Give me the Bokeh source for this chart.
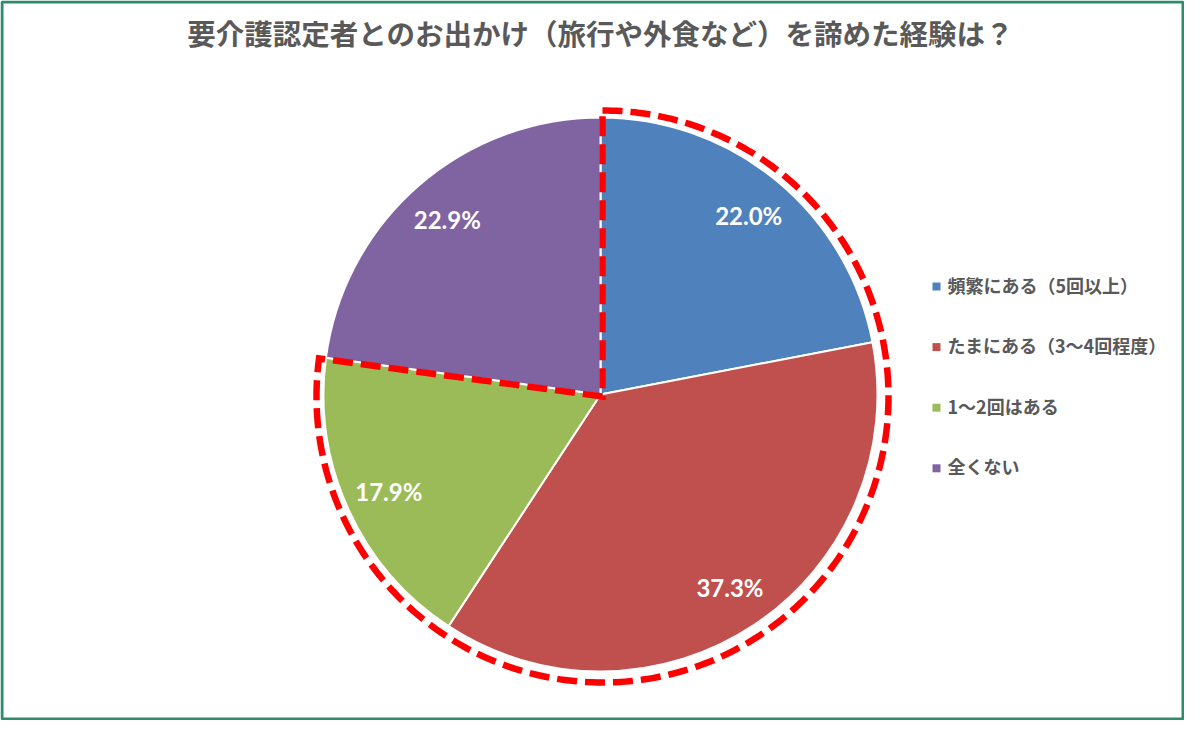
import numpy as np
from bokeh.plotting import figure
from bokeh.models import Range1d, ColumnDataSource
from bokeh.embed import file_html
from bokeh.resources import INLINE
from bokeh.core.properties import value

# ---- data ----
title_text = "要介護認定者とのお出かけ（旅行や外食など）を諦めた経験は？"
categories = ["頻繁にある（5回以上）", "たまにある（3～4回程度）", "1～2回はある", "全くない"]
shares = [22.0, 37.3, 17.9, 22.9]
labels = ["22.0%", "37.3%", "17.9%", "22.9%"]
colors = ["#4F81BD", "#C0504D", "#9BBB59", "#8064A2"]
n_highlight = 3  # first three slices are outlined in red

# ---- figure in pixel coordinates (y up) ----
W, H = 1184, 720
p = figure(width=W, height=H, x_range=Range1d(0, W), y_range=Range1d(0, H),
           output_backend="svg", toolbar_location=None, min_border=0)
p.axis.visible = False
p.grid.visible = False
p.outline_line_color = None
p.background_fill_color = "white"
p.border_fill_color = "white"


def Y(y_ref):
    return H - y_ref


# frame border
p.rect(x=W / 2, y=H / 2, width=W - 3, height=H - 3, fill_color=None,
       line_color="#2E8B6E", line_width=3)

# ---- pie ----
cx, cy, r = 600, Y(394), 277
vals = np.array(shares)
total = vals.sum()
cum = np.concatenate([[0], np.cumsum(vals)]) / total
start = np.pi / 2 - 2 * np.pi * cum[:-1]
end = np.pi / 2 - 2 * np.pi * cum[1:]
src = ColumnDataSource(dict(start=start, end=end, color=colors))
p.wedge(x=cx, y=cy, radius=r, start_angle="start", end_angle="end", direction="clock",
        fill_color="color", line_color="white", line_width=2, source=src)

mid = (start + end) / 2
lr = 0.84 * r
p.text(x=cx + lr * np.cos(mid), y=cy + lr * np.sin(mid), text=labels,
       text_align="center", text_baseline="middle", text_color="white",
       text_font=value("Lato"), text_font_style="bold", text_font_size="24px")

# ---- red dashed outline around highlighted slices ----
ocx, ocy, R = 602, Y(396), 286
a0 = np.pi / 2
a1 = np.pi / 2 - 2 * np.pi * cum[n_highlight]
th = np.linspace(a0, a1, 300)
ox = list(ocx + R * np.cos(th)) + [ocx, ocx]
oy = list(ocy + R * np.sin(th)) + [ocy, ocy + R]
p.line(ox, oy, line_color="#FF0000", line_width=6.5, line_dash="20 8",
       line_join="miter", line_cap="butt")

# ---- title ----
p.text(x=[600], y=[Y(32)], text=[title_text], text_align="center", text_baseline="middle",
       text_color="#595959", text_font=value("Noto Sans CJK JP"), text_font_style="bold",
       text_font_size="28.5px")

# ---- legend ----
ly = [Y(286 + 60.6 * i) for i in range(len(categories))]
p.scatter(x=[936] * len(categories), y=ly, marker="square", size=8, fill_color=colors,
          line_color=None)
p.text(x=[947] * len(categories), y=[v + 2 for v in ly], text=categories, text_align="left",
       text_baseline="middle", text_color="#595959", text_font=value("Noto Sans CJK JP"),
       text_font_style="bold", text_font_size="18px")

open("out.html", "w").write(file_html(p, INLINE))
